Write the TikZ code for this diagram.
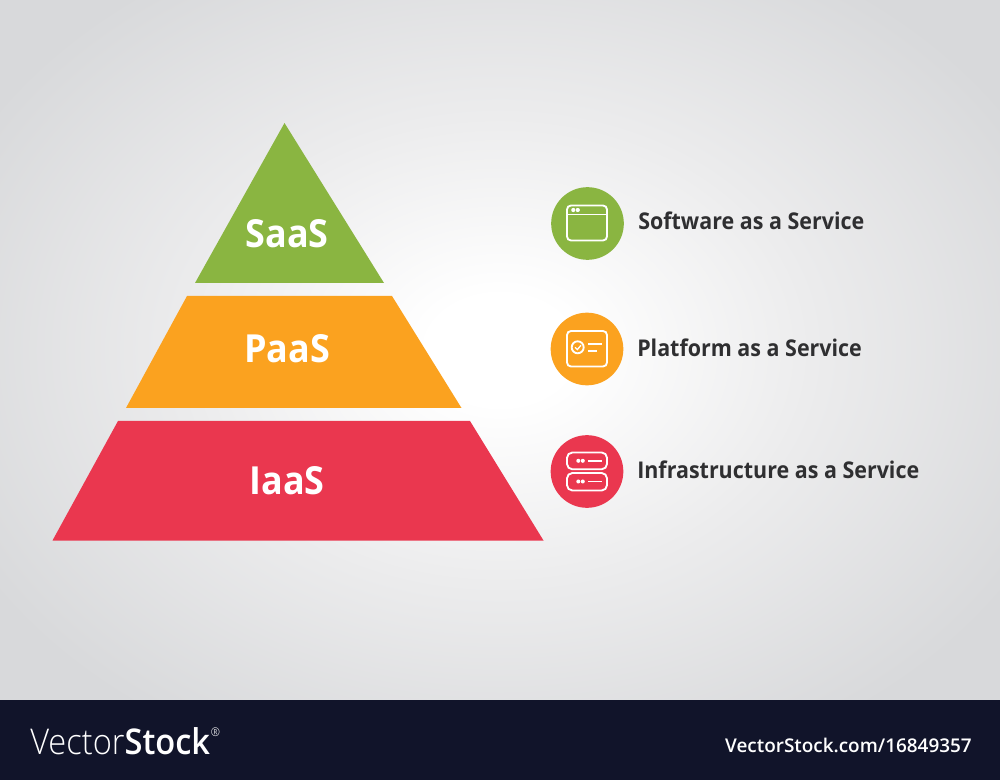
\documentclass[tikz,border=0pt]{standalone}
\usepackage{fontspec}
\setmainfont{Open Sans}
\newfontfamily\narrowface[FakeStretch=0.93]{Open Sans}
\newfontfamily\lightface[FakeStretch=0.92]{Open Sans Light}
\newfontfamily\semiface[FakeStretch=0.92]{Open Sans Semibold}
\newfontfamily\plainsemi{Open Sans Semibold}
\definecolor{bgedge}{HTML}{D8D9DB}
\definecolor{bgmid}{HTML}{ECECED}
\definecolor{saasgreen}{HTML}{8AB541}
\definecolor{paasorange}{HTML}{FBA21F}
\definecolor{iaasred}{HTML}{EA374F}
\definecolor{footerink}{HTML}{11142A}
\definecolor{labelink}{HTML}{2F2F31}
\pgfdeclareradialshading{bgglow}{\pgfpoint{0bp}{0bp}}{color(0bp)=(white); color(3bp)=(white); color(13bp)=(bgmid); color(25bp)=(bgedge); color(50bp)=(bgedge)}
\tikzset{
  tier/.style={fill=#1,draw=none},
  tiertext/.style={text=white,font=\narrowface\bfseries\fontsize{29}{34}\selectfont,inner sep=0pt,anchor=center},
  svctext/.style={text=labelink,font=\narrowface\bfseries\fontsize{17.3}{20}\selectfont,inner sep=0pt,anchor=west},
  disc/.style={circle,fill=#1,draw=none,minimum size=54.5pt,inner sep=0pt},
  glyph/.style={draw=white,line width=1.4pt,fill=none},
  glyphdot/.style={fill=white,draw=none}
}
\begin{document}
\begin{tikzpicture}[x=0.75pt,y=-0.75pt]
\useasboundingbox (0,0) rectangle (1000,780);
\begin{scope}
\clip (0,0) rectangle (1000,700);
\shade[shading=bgglow] (-100,-100) rectangle (1100,800);
\end{scope}
\fill[footerink] (0,700) rectangle (1000,780);
% pyramid
\path[tier=saasgreen] (284.5,123) -- (384,283) -- (195,283) -- cycle;
\path[tier=paasorange] (187,296) -- (392,296) -- (461.5,408) -- (126,408) -- cycle;
\path[tier=iaasred] (118,421) -- (470,421) -- (543.5,540.5) -- (52.5,540.5) -- cycle;
\node[tiertext] (saas) at (287,233.5) {SaaS};
\node[tiertext] (paas) at (287,349) {PaaS};
\node[tiertext] (iaas) at (287,481) {IaaS};
% discs
\node[disc=saasgreen] (d1) at (587.5,223.5) {};
\node[disc=paasorange] (d2) at (587,349) {};
\node[disc=iaasred] (d3) at (587,471.5) {};
% icon 1
\draw[glyph,rounded corners=3pt] (567,205.5) rectangle (607,240.5);
\draw[glyph] (567,214.5) -- (607,214.5);
\fill[glyphdot] (573.3,210) circle (2.1);
\fill[glyphdot] (577.8,210) circle (2.1);
% icon 2
\draw[glyph,rounded corners=3pt] (567,331) rectangle (607,366.5);
\draw[glyph] (577.7,347.3) circle (6);
\draw[glyph,line width=1pt] (575,347.3) -- (577.3,349.6) -- (581,345.3);
\draw[glyph] (588,344.3) -- (602,344.3);
\draw[glyph] (588,350.7) -- (597.3,350.7);
% icon 3
\draw[glyph,rounded corners=4pt] (567,452.5) rectangle (607,469.3);
\draw[glyph,rounded corners=4pt] (567,473) rectangle (607,490.5);
\fill[glyphdot] (578.3,460.8) circle (2);
\fill[glyphdot] (582.8,460.8) circle (2);
\draw[glyph] (588,460.8) -- (601.7,460.8);
\fill[glyphdot] (578.3,481.5) circle (2);
\fill[glyphdot] (582.8,481.5) circle (2);
\draw[glyph] (588,481.5) -- (601.7,481.5);
% labels
\node[svctext] (l1) at (638,221) {Software as a Service};
\node[svctext] (l2) at (637,348) {Platform as a Service};
\node[svctext] (l3) at (637,470) {Infrastructure as a Service};
% footer
\node[text=white,inner sep=0pt,anchor=base west,font=\fontsize{26.6}{32}\selectfont] (brand) at (30,754) {{\lightface Vector}{\semiface Stock}};
\node[text=white,inner sep=0pt,anchor=center,font=\lightface\fontsize{9}{10}\selectfont] (reg) at (215.5,732) {®};
\node[text=white,inner sep=0pt,anchor=base east,font=\plainsemi\fontsize{14.2}{16}\selectfont] (ref) at (972,752) {VectorStock.com/16849357};
\end{tikzpicture}
\end{document}
